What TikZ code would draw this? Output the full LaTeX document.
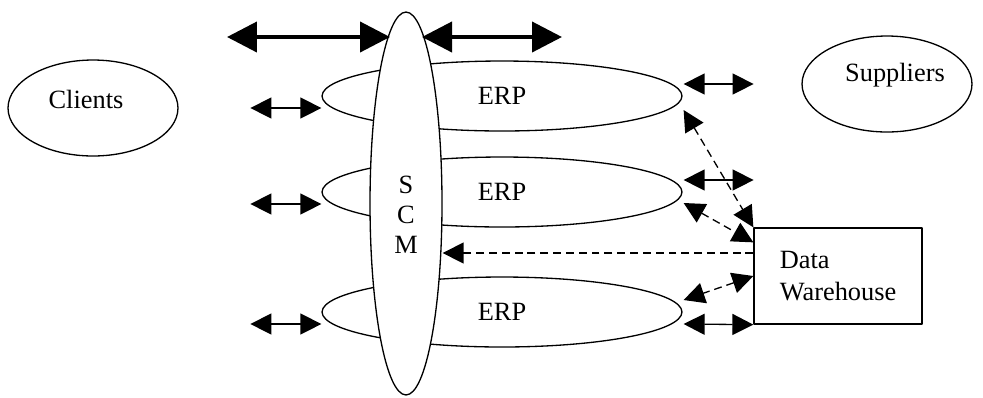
\documentclass[tikz,border=0pt]{standalone}
\usepackage{fontspec}
\setmainfont{Liberation Serif}
\usetikzlibrary{arrows.meta,calc,shapes.geometric}
\begin{document}
\begin{tikzpicture}[x=0.02cm, y=-0.02cm, font=\fontsize{15}{18}\selectfont, line width=0.75pt, line join=round,
  >={Triangle[length=0.42cm,width=0.42cm]},
  blob/.style={draw, ellipse, inner sep=0pt},
  link/.style={<->},
  dlink/.style={dash pattern=on 4.5pt off 2.8pt},
  fat/.style={line width=2.3pt, {Triangle[length=0.6cm,width=0.6cm]}-{Triangle[length=0.6cm,width=0.6cm]}}]
 \useasboundingbox (0,0) rectangle (983,397);
 % outside parties
 \node[blob, minimum width=3.4cm, minimum height=1.92cm,
   label={[xshift=-0.14cm, yshift=0.18cm]center:Clients}] (clients) at (93,108) {};
 \node[blob, minimum width=3.4cm, minimum height=1.92cm,
   label={[xshift=0.16cm, yshift=0.18cm]center:Suppliers}] (suppliers) at (887,84) {};
 % ERP systems
 \foreach \i/\y in {1/96,2/192,3/312}
   \node[blob, minimum width=7.2cm, minimum height=1.4cm] (erp\i) at (502,\y) {ERP};
 % SCM on top
 \node[blob, fill=white, minimum width=1.44cm, minimum height=7.66cm,
   label={[yshift=-0.22cm, align=center, font=\fontsize{15}{17}\selectfont]center:S\\C\\M}] (scm) at (406,203.5) {};
 % data warehouse
 \node[draw, rectangle, minimum width=3.36cm, minimum height=1.92cm, align=left] (dw) at (838,276) {Data\\Warehouse};
 % thick arrows at the top
 \coordinate (t1) at (227,37); \coordinate (t2) at (390,37);
 \coordinate (t3) at (422,37); \coordinate (t4) at (562,37);
 \draw[fat] (t1)--(t2);
 \draw[fat] (t3)--(t4);
 % small arrows left and right
 \foreach \i in {1,2,3}
   \draw[link] ($(erp\i.west)+(-71,12)$)--($(erp\i.west)+(0,12)$);
 \foreach \i in {1,2}
   \draw[link] ($(erp\i.east)+(1,-12)$)--($(erp\i.east)+(71,-12)$);
 \draw[link] ($(erp3.east)+(1,12)$)--(dw.south west);
 % dashed links to the warehouse
 \coordinate (d3) at ($(dw.west)+(0,-23)$);
 \draw[link, dlink] ($(erp1.east)+(1,14)$)--(dw.north west);
 \draw[link, dlink] ($(erp2.east)+(1,11)$)--($(dw.north west)+(0,15)$);
 \draw[->, dlink] (d3)--(scm.east |- d3);
 \draw[link, dlink] (dw.west)--($(erp3.east)+(1,-12)$);
\end{tikzpicture}
\end{document}
